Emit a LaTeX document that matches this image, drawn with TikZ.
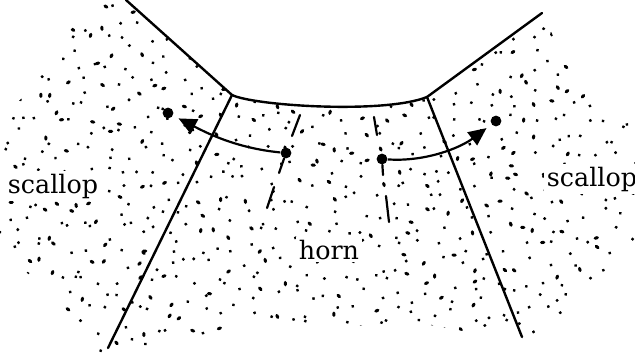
\documentclass[tikz,border=0pt]{standalone}
\usepackage{fontspec}
\setmainfont{DejaVu Serif}
\usetikzlibrary{arrows.meta}

\begin{document}
\begin{tikzpicture}[x=0.5pt,y=-0.5pt,>=Stealth,
  edge/.style={line width=1.2pt,line cap=round},
  dashline/.style={line width=1.1pt,line cap=round},
  speck/.style={line width=1.5pt,line cap=round},
  dot/.style={circle,fill,inner sep=0pt,minimum size=5.4pt},
  lbl/.style={font=\fontsize{12.7}{15}\selectfont,fill=white,inner sep=1.5pt},
  arrow/.style={-{Triangle[length=9pt,width=8pt]},line width=1.1pt,shorten >=3pt}]

  \useasboundingbox (0,0) rectangle (635,353);

  \coordinate (ul) at (126,0);
  \coordinate (tl) at (232,95);
  \coordinate (bl) at (108,348);
  \coordinate (ur) at (542,13);
  \coordinate (tr) at (427,97);
  \coordinate (br) at (522,337);

  % stippling
  \pgfmathsetseed{4217}
  \begin{scope}
    \clip (0,118) -- (20,100) -- (45,70) -- (70,30) -- (100,5) -- (ul) -- (tl)
      .. controls (255,106) and (385,114) .. (tr) -- (ur) -- (555,40) -- (580,85)
      -- (610,105) -- (635,112) -- (635,250) -- (600,280) -- (565,312) -- (530,338)
      -- (490,336) -- (430,325) -- (340,326) -- (270,320) -- (200,335) -- (140,348)
      -- (100,356) -- (75,330) -- (55,295) -- (30,275) -- (0,255) -- cycle;
    \foreach \gx in {0,16,...,630}{
      \foreach \gy in {0,16,...,350}{
        \pgfmathsetmacro\px{\gx+rnd*16}
        \pgfmathsetmacro\py{\gy+rnd*16}
        \pgfmathsetmacro\ang{rnd*180}
        \pgfmathsetmacro\len{rnd<0.7 ? 0.4 : 2.4}
        \draw[speck] (\px,\py) -- ++(\ang:\len);
      }
    }
  \end{scope}

  \draw[edge] (ul) -- (tl) -- (bl);
  \draw[edge] (ur) -- (tr) -- (br);
  \draw[edge] (tl) .. controls (255,106) and (385,114) .. (tr);

  \node[lbl,anchor=base] (labL) at (53,193) {scallop};
  \node[lbl,anchor=base] (labR) at (592,186) {scallop};
  \node[lbl,anchor=base] (labH) at (329,259) {horn};

  \node[dot] (hornL) at (286,153) {};
  \node[dot] (hornR) at (382,159) {};
  \node[dot] (scallopL) at (168,113) {};
  \node[dot] (scallopR) at (496,121) {};

  \draw[dashline] (300,115) -- (292,136);
  \draw[dashline] (hornL) -- (279,173);
  \draw[dashline] (274,187) -- (267,208);
  \draw[dashline] (374,117) -- (377,135);
  \draw[dashline] (hornR) -- (383,175);
  \draw[dashline] (386,196) -- (389,222);

  \draw[arrow] (hornL) .. controls (235,148) and (205,132) .. (scallopL);
  \draw[arrow] (hornR) .. controls (425,162) and (460,148) .. (scallopR);
\end{tikzpicture}
\end{document}
